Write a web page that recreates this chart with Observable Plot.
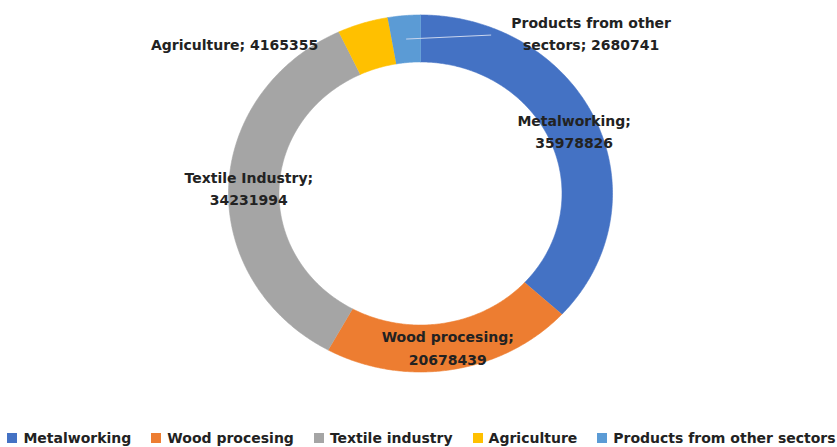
<!DOCTYPE html>
<html><head><meta charset="utf-8">
<script src="https://cdn.jsdelivr.net/npm/d3@7"></script>
<script src="https://cdn.jsdelivr.net/npm/@observablehq/plot@0.6"></script>
<style>
html,body{margin:0;padding:0;background:#fff;}
#chart svg{display:block;}
#legend .lg-swatches{font:bold 14px "DejaVu Sans",sans-serif;color:#222;justify-content:center;min-height:0;margin:0;height:20px;padding-left:6px;}
#legend .lg-swatch{margin-right:20px;}
#legend .lg-swatch:last-child{margin-right:0;}
#legend .lg-swatch > svg{margin-right:6px;}
</style></head>
<body><div id="chart"></div><div id="legend"></div>
<script>
// ---- data ----
const categories = ["Metalworking", "Wood procesing", "Textile industry", "Agriculture", "Products from other sectors"];
const labelNames = ["Metalworking", "Wood procesing", "Textile Industry", "Agriculture", "Products from other sectors"];
const values = [35978826, 20678439, 34231994, 4165355, 2680741];
const colors = ["#4472C4", "#ED7D31", "#A5A5A5", "#FFC000", "#5B9BD5"];

// ---- layout ----
const W = 837, H = 428;
const innerRatio = 0.737;
const xRange = [228, 612], yRange = [371.5, 14.5];
const pxX = (xRange[1] - xRange[0]) / 2, pxY = (yRange[0] - yRange[1]) / 2;

const total = d3.sum(values);
const slices = [];
const labels = [];
let acc = 0;
categories.forEach((c, i) => {
  const a0 = acc / total * 2 * Math.PI;
  acc += values[i];
  const a1 = acc / total * 2 * Math.PI;
  const n = Math.max(4, Math.ceil((a1 - a0) / (Math.PI / 360)));
  for (let k = 0; k <= n; k++) {
    const a = a0 + (a1 - a0) * k / n;
    slices.push({cat: c, x: Math.sin(a), y: Math.cos(a)});
  }
  for (let k = n; k >= 0; k--) {
    const a = a0 + (a1 - a0) * k / n;
    slices.push({cat: c, x: innerRatio * Math.sin(a), y: innerRatio * Math.cos(a)});
  }
  const am = (a0 + a1) / 2, rm = (1 + innerRatio) / 2;
  labels.push({cat: c, i, x: rm * Math.sin(am), y: rm * Math.cos(am)});
});

const fmt = (i) => String(values[i]);
const labelText = [
  `${labelNames[0]};\n${fmt(0)}`,
  `${labelNames[1]};\n${fmt(1)}`,
  `${labelNames[2]};\n${fmt(2)}`,
  `${labelNames[3]}; ${fmt(3)}`,
  `Products from other\nsectors; ${fmt(4)}`
];
// label offsets (px) from slice centroid
const offsets = [[1, -1, "middle"], [0, 0, "middle"], [-5, -2, "middle"], [-52, -3, "end"], [185, -7, "middle"]];
labels.forEach((d) => { d.text = labelText[d.i]; d.dx = offsets[d.i][0]; d.dy = offsets[d.i][1]; d.anchor = offsets[d.i][2]; });

const leader = [{x1: labels[4].x, y1: labels[4].y, x2: labels[4].x + 85 / pxX, y2: labels[4].y + 4 / pxY}];

const textStyle = {fontSize: 14, fontWeight: "bold", fontFamily: "DejaVu Sans", fill: "#222", lineHeight: 1.6};

const plot = Plot.plot({
  width: W, height: H,
  marginTop: 0, marginRight: 0, marginBottom: 0, marginLeft: 0,
  x: {domain: [-1, 1], range: xRange, axis: null},
  y: {domain: [-1, 1], range: yRange, axis: null},
  color: {domain: categories, range: colors},
  marks: [
    Plot.line(slices, {x: "x", y: "y", z: "cat", fill: "cat", stroke: "cat", strokeWidth: 0.6, curve: "linear"}),
    Plot.link(leader, {x1: "x1", y1: "y1", x2: "x2", y2: "y2", stroke: "#c9d5ee", strokeWidth: 1}),
    ...labels.map(d => Plot.text([d], {x: "x", y: "y", text: "text", dx: d.dx, dy: d.dy, textAnchor: d.anchor, ...textStyle}))
  ]
});
document.getElementById("chart").appendChild(plot);

const legend = Plot.legend({
  color: {type: "ordinal", domain: categories, range: colors},
  legend: "swatches", swatchSize: 10, className: "lg"
});
document.getElementById("legend").appendChild(legend);
</script>
</body></html>
